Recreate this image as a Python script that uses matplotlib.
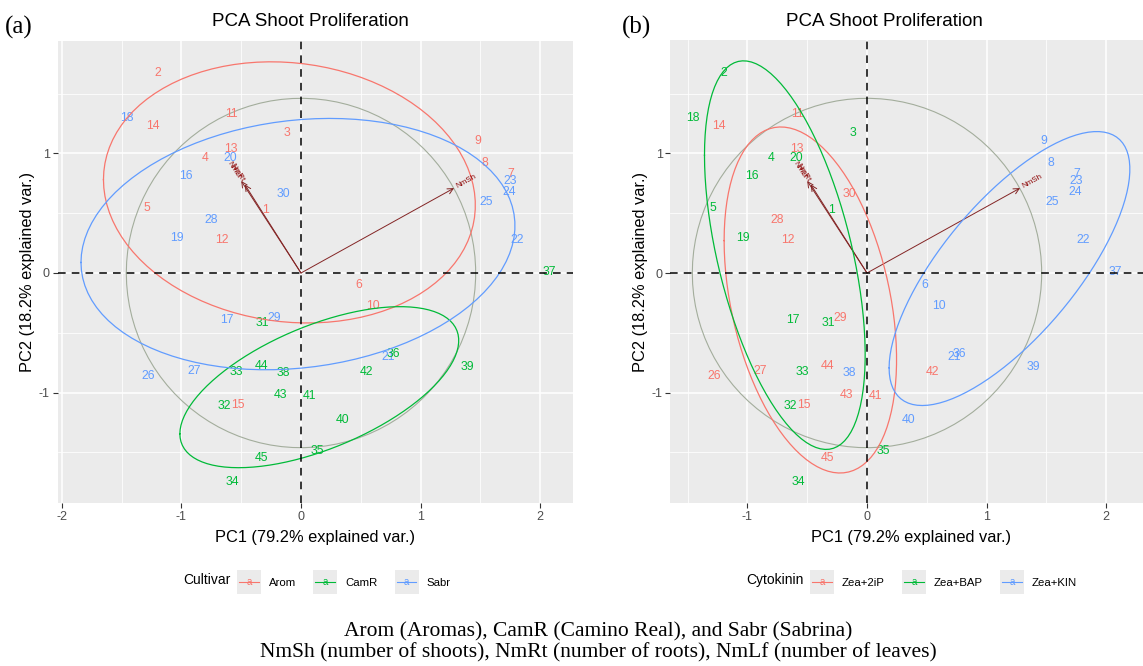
import numpy as np
import matplotlib.pyplot as plt
from matplotlib.legend_handler import HandlerBase
from matplotlib.lines import Line2D
from matplotlib.patches import Rectangle
from matplotlib.text import Text

plt.rcParams['font.family'] = ['Liberation Sans', 'DejaVu Sans']
plt.rcParams['axes.unicode_minus'] = False

obs = list(range(1, 46))
pc1 = [-0.30, -1.195, -0.12, -0.80, -1.29, 0.48, 1.75, 1.54, 1.48, 0.60,
       -0.58, -0.66, -0.59, -1.24, -0.53,
       -0.96, -0.62, -1.46, -1.04, -0.59, 0.73, 1.81, 1.75, 1.74, 1.55,
       -1.28, -0.89, -0.75, -0.22, -0.15,
       -0.32, -0.64, -0.54, -0.57, 0.14, 0.77, 2.08, -0.15, 1.39, 0.35,
       0.07, 0.55, -0.175, -0.33, -0.33]
pc2 = [0.525, 1.675, 1.17, 0.96, 0.54, -0.10, 0.825, 0.92, 1.10, -0.28,
       1.33, 0.275, 1.04, 1.23, -1.10,
       0.81, -0.39, 1.30, 0.29, 0.96, -0.70, 0.28, 0.77, 0.675, 0.59,
       -0.865, -0.82, 0.44, -0.375, 0.66,
       -0.42, -1.115, -0.825, -1.75, -1.49, -0.675, 0.01, -0.835, -0.79, -1.23,
       -1.025, -0.825, -1.02, -0.78, -1.55]
cultivar = ["Arom"] * 15 + ["Sabr"] * 15 + ["CamR"] * 15
cytokinin = (["Zea+BAP"] * 5 + ["Zea+KIN"] * 5 + ["Zea+2iP"] * 5) * 3
cultivar_levels = ["Arom", "CamR", "Sabr"]
cytokinin_levels = ["Zea+2iP", "Zea+BAP", "Zea+KIN"]
hue3 = ["#F8766D", "#00BA38", "#619CFF"]

# variable loadings (arrow tips)
var_names = ["NmSh", "NmRt", "NmLf"]
load1 = [1.28, -0.47, -0.50]
load2 = [0.71, 0.74, 0.77]

x_ticks_a = [-2, -1, 0, 1, 2]
x_ticks_b = [-1, 0, 1, 2]
y_ticks = [-1, 0, 1]

W, H = 1143, 666
PX = 119.6  # pixels per PC unit (coord_equal)

x = np.array(pc1)
y = np.array(pc2)


def ellipse(xs, ys, prob=0.68):
    pts = np.column_stack([xs, ys])
    mu = pts.mean(axis=0)
    sigma = np.cov(pts.T)
    U = np.linalg.cholesky(sigma).T
    ed = np.sqrt(-2 * np.log(1 - prob))
    t = np.linspace(-np.pi, np.pi, 100)
    circ = np.column_stack([np.cos(t), np.sin(t)])
    return circ @ U * ed + mu


def corr_circle(prob=0.69):
    r = np.sqrt(-2 * np.log(1 - prob)) * (np.mean(x ** 2) * np.mean(y ** 2)) ** 0.25
    t = np.linspace(-np.pi, np.pi, 100)
    return np.column_stack([r * np.cos(t), r * np.sin(t)])


class KeyHandler(HandlerBase):
    def create_artists(self, legend, orig_handle, xdescent, ydescent,
                       width, height, fontsize, trans):
        c = orig_handle.get_color()
        side = 24 * 72 / 100  # square key, ~24 px
        x0 = -xdescent + (width - side) / 2
        y0 = -ydescent + (height - side) / 2
        bg = Rectangle((x0, y0), side, side, fc='#EBEBEB', ec='none',
                       transform=trans)
        ln = Line2D([x0 + 1.5, x0 + side - 1.5], [y0 + side / 2] * 2, color=c,
                    lw=0.8, transform=trans)
        tx = Text(x0 + side / 2, y0 + side / 2, 'a', color=c, ha='center',
                  va='center', fontsize=fontsize * 0.85, transform=trans)
        return [bg, ln, tx]


fig = plt.figure(figsize=(W / 100, H / 100), dpi=100)


def panel(origin, groups, levels, xticks, title, title_x, tag, tag_x,
          legend_title, legend_title_x, legend_x):
    ells = [ellipse(x[np.array(groups) == g], y[np.array(groups) == g]) for g in levels]
    circ = corr_circle()
    allx = np.concatenate([x, circ[:, 0]] + [e[:, 0] for e in ells])
    ally = np.concatenate([y, circ[:, 1]] + [e[:, 1] for e in ells])
    xlo, xhi = allx.min(), allx.max()
    ylo, yhi = ally.min(), ally.max()
    xpad, ypad = 0.05 * (xhi - xlo), 0.05 * (yhi - ylo)
    xlo, xhi, ylo, yhi = xlo - xpad, xhi + xpad, ylo - ypad, yhi + ypad

    ox, oy = origin
    left = ox + xlo * PX
    top = oy - yhi * PX
    ax = fig.add_axes([left / W, 1 - (top + (yhi - ylo) * PX) / H,
                       (xhi - xlo) * PX / W, (yhi - ylo) * PX / H])
    ax.set_facecolor('#EBEBEB')
    for s in ax.spines.values():
        s.set_visible(False)
    ax.set_xticks(xticks)
    ax.set_yticks(y_ticks)
    ax.set_xticks(np.arange(-2.5, 3, 1.0), minor=True)
    ax.set_yticks(np.arange(-1.5, 2, 1.0), minor=True)
    ax.set_xlim(xlo, xhi)
    ax.set_ylim(ylo, yhi)
    ax.grid(which='major', color='white', lw=1.1)
    ax.grid(which='minor', color='white', lw=0.55)
    ax.set_axisbelow(True)
    ax.tick_params(which='major', length=3.5, width=0.8, color='#333333',
                   labelcolor='#4D4D4D', labelsize=9, pad=2)
    ax.tick_params(which='minor', length=0)

    ax.plot(circ[:, 0], circ[:, 1], color='#A3AD9C', lw=0.8, zorder=2)

    for nm, vx, vy in zip(var_names, load1, load2):
        ax.annotate('', xy=(vx, vy), xytext=(0, 0),
                    arrowprops=dict(arrowstyle='->', color='#832424', lw=0.7,
                                    shrinkA=0, shrinkB=0, mutation_scale=10),
                    zorder=3)

    for n, px_, py_, g in zip(obs, pc1, pc2, groups):
        ax.text(px_, py_, str(n), color=hue3[levels.index(g)], ha='center',
                va='center', fontsize=8.8, zorder=4)

    for e, c in zip(ells, hue3):
        ax.plot(e[:, 0], e[:, 1], color=c, lw=0.9, zorder=5)

    for nm, vx, vy in zip(var_names, load1, load2):
        ang = np.degrees(np.arctan(vy / vx))
        sg = np.sign(vx)
        ax.annotate(nm, xy=(vx, vy),
                    xytext=(sg * 2.5 * np.cos(np.radians(ang)),
                            sg * 2.5 * np.sin(np.radians(ang))),
                    textcoords='offset points', rotation=ang,
                    rotation_mode='anchor', ha='left' if sg > 0 else 'right',
                    va='center', fontsize=5.8, color='#8B0000', zorder=6)

    ax.axhline(0, color='black', lw=1.1, ls=(0, (5, 4)), zorder=7)
    ax.axvline(0, color='black', lw=1.1, ls=(0, (5, 4)), zorder=7)

    ax.set_xlabel('PC1 (79.2% explained var.)', fontsize=11.8, labelpad=5)
    ax.set_ylabel('PC2 (18.2% explained var.)', fontsize=11.8, labelpad=3)

    fig.text(title_x / W, 1 - 21 / H, title, ha='center', va='center', fontsize=13.5)
    fig.text(tag_x / W, 1 - 27 / H, tag, ha='left', va='center', fontsize=18,
             family='Liberation Serif')

    fig.text(legend_title_x / W, 1 - 580 / H, legend_title, ha='right',
             va='center', fontsize=10)
    handles = [Line2D([], [], color=c) for c in hue3]
    fig.legend(handles, levels, handler_map={Line2D: KeyHandler()},
               loc='center left', bbox_to_anchor=(legend_x / W, 1 - 582 / H),
               ncol=3, frameon=False, fontsize=8.2, handlelength=2.3,
               handleheight=2.2, handletextpad=0.6, columnspacing=1.4,
               borderpad=0, borderaxespad=0)
    return ax


panel((301, 273), cultivar, cultivar_levels, x_ticks_a,
      'PCA Shoot Proliferation', 310, '(a)', 5,
      'Cultivar', 231, 236)
panel((867, 273), cytokinin, cytokinin_levels, x_ticks_b,
      'PCA Shoot Proliferation', 884, '(b)', 622,
      'Cytokinin', 804, 809)

fig.text(598 / W, 1 - 632 / H, 'Arom (Aromas), CamR (Camino Real), and Sabr (Sabrina)',
         ha='center', va='center', fontsize=15.5, family='Liberation Serif')
fig.text(598 / W, 1 - 653 / H,
         'NmSh (number of shoots), NmRt (number of roots), NmLf (number of leaves)',
         ha='center', va='center', fontsize=15.5, family='Liberation Serif')

fig.savefig('out.png', dpi=100)
